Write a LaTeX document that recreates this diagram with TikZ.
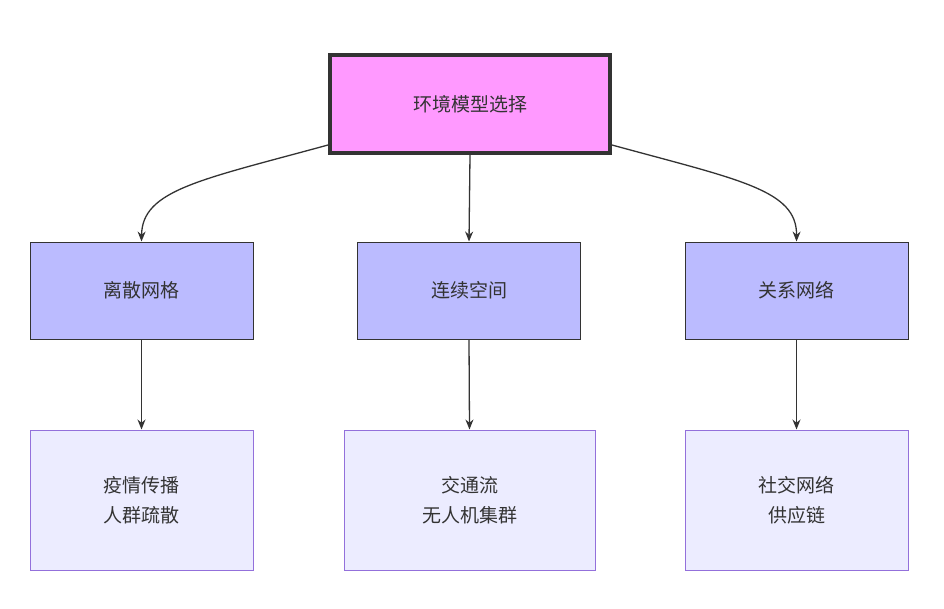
\documentclass[tikz,border=0pt]{standalone}
\usepackage{fontspec}
\newfontfamily\cjk{Noto Sans CJK SC}
\usetikzlibrary{arrows.meta}
\definecolor{topf}{HTML}{FF99FF}
\definecolor{midf}{HTML}{BBBBFF}
\definecolor{botf}{HTML}{ECECFF}
\definecolor{botd}{HTML}{9370DB}
\definecolor{ink}{HTML}{333333}
\begin{document}
\begin{tikzpicture}[x=1pt,y=-1pt,
  box/.style={draw=ink,line width=1pt,inner sep=0pt,align=center,font=\cjk\fontsize{19}{30}\selectfont,text=ink},
  top/.style={box,fill=topf,line width=4pt,minimum width=280,minimum height=98},
  mid/.style={box,fill=midf,minimum width=223,minimum height=97},
  bot/.style={box,fill=botf,draw=botd,minimum height=140},
  arr/.style={draw=ink,line width=1.3pt,-{Stealth[length=10pt,width=8pt]}}]
\useasboundingbox (0,0) rectangle (944,608);
\node[top] (t) at (470,104) {环境模型选择};
\node[mid] (a) at (141.5,290.5) {离散网格};
\node[mid] (b) at (469,290.5) {连续空间};
\node[mid] (c) at (796.5,290.5) {关系网络};
\node[bot,minimum width=223] (a2) at (141.5,500) {疫情传播\\人群疏散};
\node[bot,minimum width=251] (b2) at (469.5,500) {交通流\\无人机集群};
\node[bot,minimum width=223] (c2) at (796.5,500) {社交网络\\供应链};
\draw[arr] (t.west |- 0,145) .. controls (200,180) and (142,190) .. (a.north);
\draw[arr] (t.south) -- (b.north);
\draw[arr] (t.east |- 0,145) .. controls (740,180) and (797,190) .. (c.north);
\draw[arr] (a.south) -- (a2.north);
\draw[arr] (b.south) -- (b2.north);
\draw[arr] (c.south) -- (c2.north);
\end{tikzpicture}
\end{document}
